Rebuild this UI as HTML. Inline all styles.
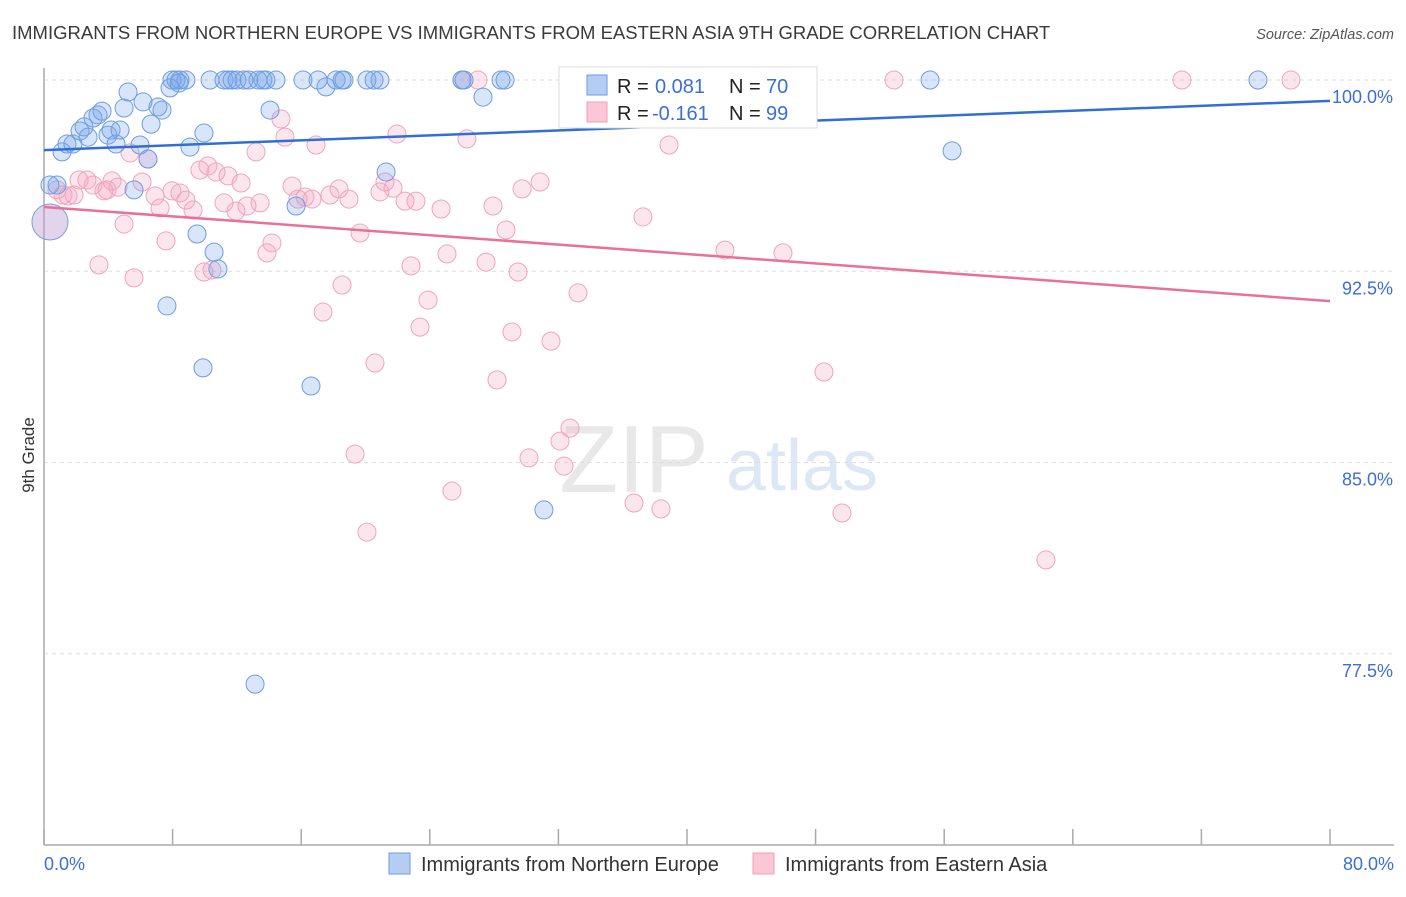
<!DOCTYPE html>
<html><head><meta charset="utf-8"><style>
body{margin:0;background:#fff;font-family:"Liberation Sans",sans-serif;}
svg text{font-family:"Liberation Sans",sans-serif;}
</style></head><body>
<svg width="1406" height="892" viewBox="0 0 1406 892">
<text x="12" y="39" font-size="18.5" fill="#3a3a3a">IMMIGRANTS FROM NORTHERN EUROPE VS IMMIGRANTS FROM EASTERN ASIA 9TH GRADE CORRELATION CHART</text>
<text x="1394" y="39" font-size="14.5" fill="#555" font-style="italic" text-anchor="end">Source: ZipAtlas.com</text>
<g><text x="634" y="492" font-size="96" fill="#e8e8e8" font-family="Liberation Serif" text-anchor="middle">ZIP</text><text x="802" y="490" font-size="72" fill="#dde7f5" text-anchor="middle">atlas</text></g>
<g id="grid"></g>
<g id="axes"></g>
<g id="marks"></g>
<g id="lines"></g>
<text transform="translate(34,455) rotate(-90)" font-size="17" fill="#333" text-anchor="middle">9th Grade</text>
<text x="44" y="870" font-size="18" fill="#3b6fd4">0.0%</text>
<text x="1394" y="870" font-size="18" fill="#3b6fd4" text-anchor="end">80.0%</text>
<g>
<rect x="559" y="67" width="258" height="61" fill="#fff" stroke="#ddd"/>
<rect x="587" y="75" width="20" height="20" fill="#b5cdf2" stroke="#6f9ae0"/>
<rect x="587" y="102" width="20" height="20" fill="#fbc6d5" stroke="#f0a0b8"/>
<text x="617" y="93" font-size="20" fill="#222">R =</text>
<text x="655" y="93" font-size="20" fill="#3b6fd4">0.081</text>
<text x="729" y="93" font-size="20" fill="#222">N =</text>
<text x="766" y="93" font-size="20" fill="#3b6fd4">70</text>
<text x="617" y="120" font-size="20" fill="#222">R =</text>
<text x="652" y="120" font-size="20" fill="#3b6fd4">-0.161</text>
<text x="729" y="120" font-size="20" fill="#222">N =</text>
<text x="766" y="120" font-size="20" fill="#3b6fd4">99</text>
</g>
<g>
<rect x="389" y="853" width="21" height="21" fill="#b5cdf2" stroke="#6f9ae0"/>
<text x="421" y="871" font-size="20" fill="#333">Immigrants from Northern Europe</text>
<rect x="753" y="853" width="21" height="21" fill="#fbc6d5" stroke="#f0a0b8"/>
<text x="785" y="871" font-size="20" fill="#333">Immigrants from Eastern Asia</text>
</g>
</svg>
<script>
const yTicks=[100,92.5,85,77.5];
const yTickLabels=["100.0%","92.5%","85.0%","77.5%"];
const xTicks=[0,8,16,24,32,40,48,56,64,72,80];
const blueX=[0.81,1.12,1.43,1.80,2.24,2.49,2.74,3.05,3.36,3.61,3.98,4.17,4.48,4.73,4.98,5.23,5.60,5.97,6.16,6.47,6.66,7.09,7.34,7.65,7.96,8.21,8.46,8.83,7.84,8.40,9.08,9.52,9.89,9.95,10.33,10.58,10.82,11.2,11.45,11.7,12.01,12.44,12.75,13.13,13.31,13.62,13.81,14.06,14.43,15.68,16.11,16.61,17.05,17.54,18.17,18.54,18.66,20.09,20.53,20.9,21.28,26.0,26.13,27.31,28.43,28.68,31.1,33.1,55.12,56.49,75.52,0.37];
const blueY=[95.88,97.18,97.49,97.49,98.0,98.16,97.76,98.51,98.63,98.78,97.84,98.04,97.49,98.04,98.9,99.53,95.69,97.45,99.14,96.9,98.27,98.94,98.82,91.14,100,100,100,100,99.69,99.88,97.37,93.96,88.71,97.92,100,93.25,92.59,100,100,100,100,100,100,76.31,100,100,100,98.82,100,95.06,100,88.0,100,99.73,100,100,100,100,100,100,96.39,100,100,99.33,100,100,83.14,100,100,97.22,100,95.88];
const pinkX=[0.81,1.18,1.49,1.87,2.18,2.67,3.05,3.42,3.73,3.92,4.23,4.60,4.98,5.35,5.60,6.10,6.47,6.91,7.22,7.59,7.96,8.46,8.83,9.27,9.70,9.95,10.2,10.45,10.7,11.2,11.45,11.94,12.26,12.63,13.19,13.44,13.87,14.18,14.74,14.99,15.43,15.8,16.24,16.67,16.92,17.36,17.79,18.35,18.54,18.97,19.35,19.66,20.09,20.59,20.9,21.21,21.71,21.96,22.46,22.83,23.14,23.39,23.89,24.7,25.07,25.38,26.0,26.31,27.0,27.5,27.93,28.18,28.74,29.11,29.49,29.74,30.17,30.86,31.54,32.1,32.35,32.72,33.22,36.7,37.26,37.7,38.38,38.88,42.36,43.11,45.97,48.52,49.64,52.88,62.33,70.79,77.57];
const pinkY=[95.69,95.49,95.45,95.49,96.08,96.08,95.88,92.75,95.65,95.69,96.04,95.8,94.35,97.14,92.24,96.0,96.9,95.45,94.98,93.69,95.65,95.57,95.29,94.9,96.47,92.47,96.63,92.55,96.39,95.18,96.24,94.86,95.96,95.06,97.18,95.18,93.22,93.61,98.47,97.76,95.84,95.33,95.41,95.33,97.45,90.9,95.49,95.73,91.96,95.33,85.33,94.0,82.27,88.9,95.61,96.0,95.76,97.88,95.25,92.71,95.25,90.31,91.37,94.94,93.18,83.88,100,97.69,100,92.86,95.06,88.24,94.12,90.12,92.47,95.73,85.18,96.0,89.76,85.84,84.86,86.35,91.65,83.41,94.63,100,83.18,97.45,93.33,100,93.22,88.55,83.02,100,81.18,100,100];
const bigX=[0.37];const bigY=[94.43];
const blueTrend=[97.25,99.18];const pinkTrend=[95.02,91.33];
const X0=44,X1=1330,Y0=80,Y1=845;
const sx=v=>X0+(v/80)*(X1-X0);
const sy=v=>Y0+(100-v)/30*(Y1-Y0);
const NS="http://www.w3.org/2000/svg";
function mk(t,a,p){const e=document.createElementNS(NS,t);for(const k in a)e.setAttribute(k,a[k]);p.appendChild(e);return e;}
const grid=document.getElementById('grid'),axes=document.getElementById('axes'),marks=document.getElementById('marks'),lines=document.getElementById('lines');
yTicks.forEach((t,i)=>{
 const l=mk('line',{x1:X0,x2:1394,y1:sy(t),y2:sy(t),stroke:'#ddd','stroke-dasharray':'4,4'},grid);
 
 
 const tx=mk('text',{x:1393,y:sy(t)+23,'font-size':18,fill:'#3b6fd4','text-anchor':'end'},grid);
 tx.textContent=yTickLabels[i];
 
 
});
const ya=mk('line',{x1:X0,x2:X0,y1:68,y2:Y1,stroke:'#aaa','stroke-width':1.5},axes);


const xa=mk('line',{x1:X0,x2:1394,y1:Y1,y2:Y1,stroke:'#aaa','stroke-width':1.5},axes);


xTicks.forEach(t=>{
 const l=mk('line',{x1:sx(t),x2:sx(t),y1:Y1,y2:Y1-16,stroke:'#aaa','stroke-width':1.5},axes);
 
 
});
function pts(xs,ys,fill,stroke,name,r){
 xs.forEach((x,i)=>{
  const c=mk('circle',{cx:sx(x),cy:sy(ys[i]),r:r,fill:fill,stroke:stroke,'stroke-width':1},marks);
  
  
 });
}
pts(pinkX,pinkY,'rgba(245,165,195,0.28)','#eea5be','point-eastern-asia',9);
pts(blueX,blueY,'rgba(120,165,235,0.28)','#6f9ce2','point-northern-europe',9);
pts(bigX,bigY,'rgba(190,160,210,0.45)','#7a9fe0','point-large-cluster',18);
const bl=mk('line',{x1:sx(0),y1:sy(blueTrend[0]),x2:sx(80),y2:sy(blueTrend[1]),stroke:'#2f6fd6','stroke-width':2.5},lines);


const pl=mk('line',{x1:sx(0),y1:sy(pinkTrend[0]),x2:sx(80),y2:sy(pinkTrend[1]),stroke:'#e8709a','stroke-width':2.5},lines);


</script>
</body></html>
